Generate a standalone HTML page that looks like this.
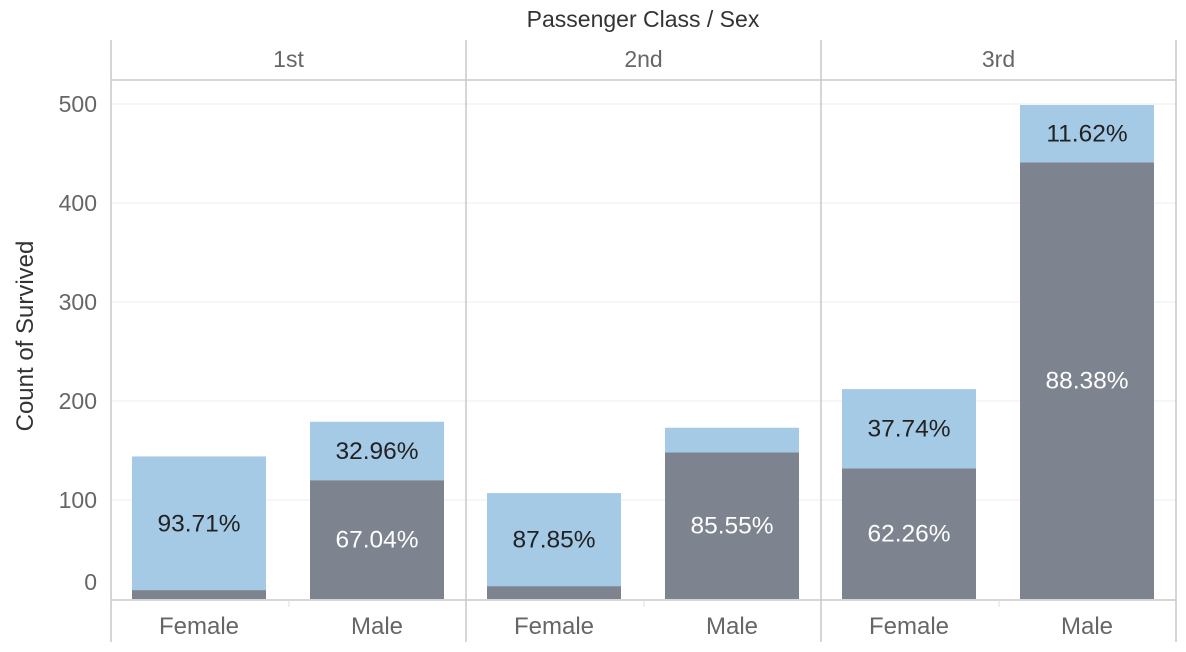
<!DOCTYPE html>
<html><head><meta charset="utf-8"><style>
body{margin:0;background:#fff;}
svg{display:block;font-family:"Liberation Sans","DejaVu Sans",sans-serif;}
</style></head><body>
<svg id="chart" width="1186" height="652">
<text x="643" y="27" text-anchor="middle" font-size="23" fill="#333">Passenger Class  /  Sex</text>
<text transform="translate(33,336) rotate(-90)" text-anchor="middle" font-size="24" fill="#333">Count of Survived</text>
<g id="grid"></g><g id="bars"></g><g id="labels"></g><g id="frame"></g>
</svg>
<script>
const classes=["1st","2nd","3rd"];
const sexes=["Female","Male"];
const died=[9,120,13,148,132,441];
const survived=[135,59,94,25,80,58];
const diedLabels=["","67.04%","","85.55%","62.26%","88.38%"];
const survLabels=["93.71%","32.96%","87.85%","","37.74%","11.62%"];
const yTicks=[0,100,200,300,400,500];
const NS="http://www.w3.org/2000/svg";
const svg=document.getElementById('chart');
const x0=111,panelW=355,yZero=599,pxPer=0.99;
function y(v){return yZero-v*pxPer;}
function mk(t,a,p){const e=document.createElementNS(NS,t);for(const k in a)e.setAttribute(k,a[k]);(p||svg).appendChild(e);return e;}
const grid=document.getElementById('grid'),bars=document.getElementById('bars'),labels=document.getElementById('labels'),frame=document.getElementById('frame');
yTicks.forEach(t=>{
 if(t>0){const l=mk('line',{x1:x0,x2:1176,y1:y(t),y2:y(t),stroke:'#ececec','stroke-width':1},grid);
 
 }
 const tx=mk('text',{x:97,y:t===0?590:y(t)+8,'text-anchor':'end','font-size':23,fill:'#666'},labels);
 tx.textContent=t;
 
 
});
classes.forEach((c,i)=>{
 const px=x0+i*panelW;
 const h=mk('text',{x:px+panelW/2,y:67,'text-anchor':'middle','font-size':23,fill:'#666'},labels);
 h.textContent=c;
 
 
 sexes.forEach((s,j)=>{
  const k=i*2+j;
  const bx=px+21+j*178,bw=134;
  const d=mk('rect',{x:bx,y:y(died[k]),width:bw,height:died[k]*pxPer,fill:'#7d838f'},bars);
  
  
  const top=died[k]+survived[k];
  const sv=mk('rect',{x:bx,y:y(top),width:bw,height:survived[k]*pxPer,fill:'#a4cae6'},bars);
  
  
  if(diedLabels[k]){const t=mk('text',{x:bx+bw/2,y:y(died[k]/2)+8,'text-anchor':'middle','font-size':24.5,fill:'#fff'},labels);
   t.textContent=diedLabels[k];
   
   }
  if(survLabels[k]){const t=mk('text',{x:bx+bw/2,y:y(died[k]+survived[k]/2)+8,'text-anchor':'middle','font-size':24.5,fill:'#222'},labels);
   t.textContent=survLabels[k];
   
   }
  const st=mk('text',{x:bx+bw/2,y:634,'text-anchor':'middle','font-size':24,fill:'#666'},labels);
  st.textContent=s;
  
  
 });
});
[[x0,40,x0,642],[466,40,466,642],[821,40,821,642],[1176,40,1176,642],[x0,80,1176,80],[x0,600,1176,600]].forEach((p,i)=>{
 const l=mk('line',{x1:p[0],y1:p[1],x2:p[2],y2:p[3],stroke:'#c8c8c8','stroke-width':1.5},frame);
 
 
});
[289,644,999].forEach(xx=>{const l=mk('line',{x1:xx,x2:xx,y1:600,y2:607,stroke:'#ddd'},frame);
 
 });
</script>
</body></html>
